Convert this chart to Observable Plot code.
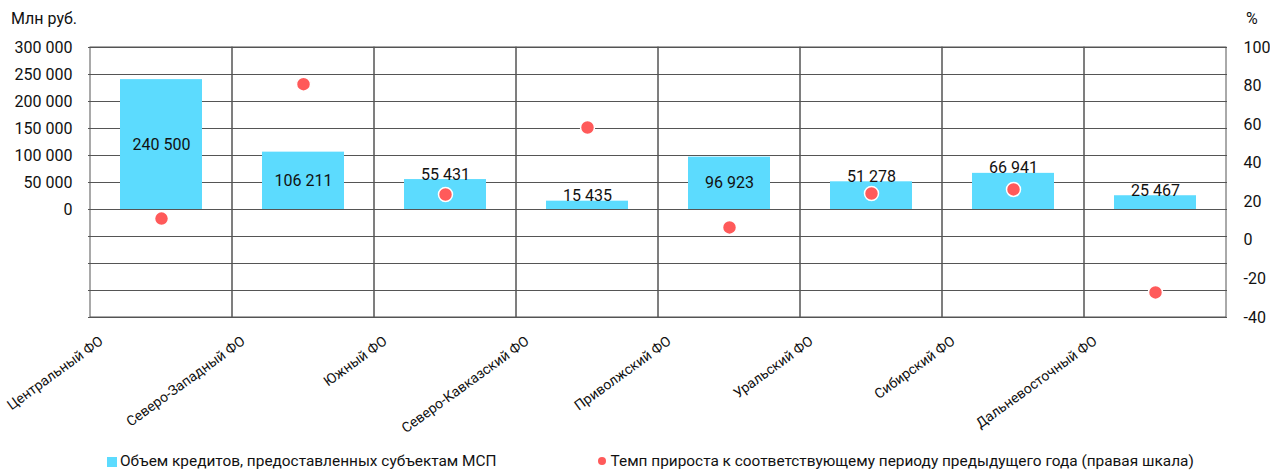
<!DOCTYPE html>
<html><head><meta charset="utf-8">
<script src="https://cdn.jsdelivr.net/npm/d3@7"></script>
<script src="https://cdn.jsdelivr.net/npm/@observablehq/plot@0.6"></script>
<style>
body{margin:0;font-family:Roboto,sans-serif;background:#fff}
#wrap{position:relative;width:1270px;height:471px;overflow:hidden}
.unit{position:absolute;top:9px;font-size:16px;color:#111}
#legend{position:absolute;top:452px;left:107px;display:flex;gap:101px;font-size:15.4px;color:#111;white-space:nowrap}
.sw{display:inline-block;width:10px;height:10px;background:#5CDBFE;margin-right:3px;vertical-align:-1px}
.dt{display:inline-block;width:8px;height:8px;border-radius:50%;background:#FF5A5A;margin-right:5px;vertical-align:1px}
</style></head><body>
<div id="wrap">
<div id="chart"></div>
<span class="unit" style="left:11px">Млн руб.</span>
<span class="unit" style="left:1246px">%</span>
<div id="legend"><span><span class="sw"></span>Объем кредитов, предоставленных субъектам МСП</span><span><span class="dt"></span>Темп прироста к соответствующему периоду предыдущего года (правая шкала)</span></div>
</div>
<script>
const regions = ["Центральный ФО","Северо-Западный ФО","Южный ФО","Северо-Кавказский ФО","Приволжский ФО","Уральский ФО","Сибирский ФО","Дальневосточный ФО"];
const volume = [240500, 106211, 55431, 15435, 96923, 51278, 66941, 25467];
const growth = [11.3, 81, 23.8, 58.5, 6.7, 24.3, 26.4, -27];
const leftTicks = [0, 50000, 100000, 150000, 200000, 250000, 300000];
const gridTicks = [-200000, -150000, -100000, -50000, 0, 50000, 100000, 150000, 200000, 250000, 300000];
const rightTicks = [-40, -20, 0, 20, 40, 60, 80, 100];

const yMin = -200000, yMax = 300000, pMin = -40, pMax = 100;
const toY = p => yMin + (p - pMin) / (pMax - pMin) * (yMax - yMin);
const fromY = v => Math.round(pMin + (v - yMin) / (yMax - yMin) * (pMax - pMin));
const fmt = v => d3.format(",")(v).replace(/,/g, " ");

const data = regions.map((r, i) => ({region: r, volume: volume[i], growth: growth[i]}));
const tall = data.filter(d => d.volume > 90000);
const short = data.filter(d => d.volume <= 90000);

const chart = Plot.plot({
  width: 1270, height: 471,
  marginTop: 47, marginBottom: 154, marginLeft: 88, marginRight: 43,
  style: {fontFamily: "Roboto, sans-serif", color: "#111"},
  x: {type: "band", domain: regions, padding: 0, axis: null},
  y: {domain: [yMin, yMax], axis: null},
  marks: [
    Plot.gridY(gridTicks, {stroke: "#555", strokeOpacity: 1, strokeWidth: 1}),
    Plot.barY(regions, {x: d => d, y1: yMin, y2: yMax, fill: "none", stroke: "#555", strokeWidth: 1}),
    Plot.barY(data, {x: "region", y: "volume", fill: "#5CDBFE", insetLeft: 30, insetRight: 30}),
    Plot.dot(data, {x: "region", y: d => toY(d.growth), r: 7, fill: "#FF5A5A", stroke: "white", strokeWidth: 1.5}),
    Plot.text(tall, {x: "region", y: d => d.volume / 2, text: d => fmt(d.volume), fontSize: 16, fill: "#111"}),
    Plot.text(short, {x: "region", y: "volume", text: d => fmt(d.volume), fontSize: 16, fill: "#111", dy: -5}),
    Plot.axisY(leftTicks, {anchor: "left", tickFormat: fmt, tickSize: 0, tickPadding: 16, fontSize: 16, label: null}),
    Plot.axisY(rightTicks.map(toY), {anchor: "right", tickFormat: fromY, tickSize: 0, tickPadding: 16, fontSize: 16, label: null}),
    Plot.text(regions, {x: d => d, y: yMin, text: d => d, rotate: -36, textAnchor: "end", dx: -60, dy: 22, fontSize: 14, fill: "#111"})
  ]
});
document.getElementById("chart").appendChild(chart);
</script>
</body></html>
